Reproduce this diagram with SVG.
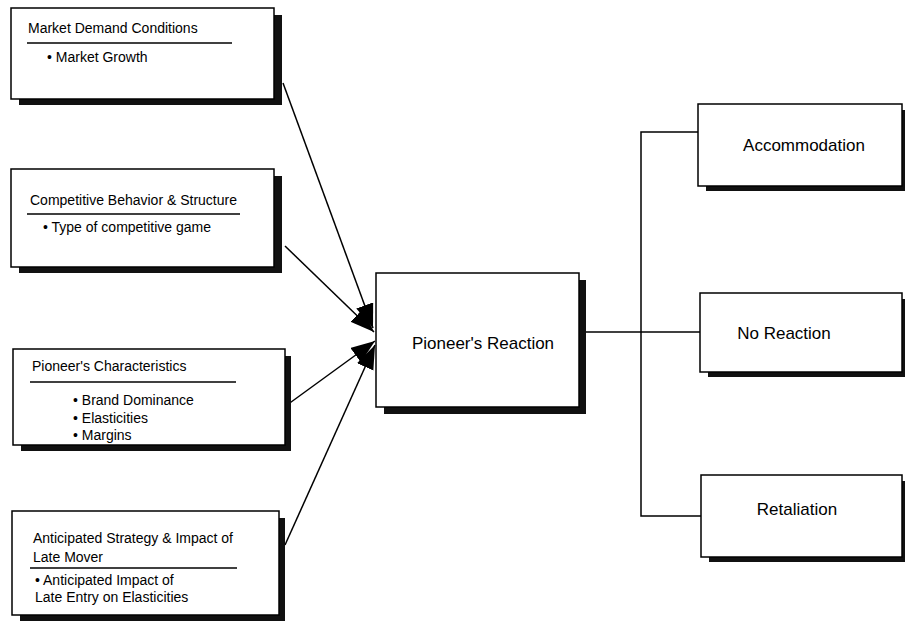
<svg xmlns="http://www.w3.org/2000/svg" width="905" height="623" viewBox="0 0 905 623">
<style>
.box{fill:#fff;stroke:#000;stroke-width:1.5}
.sh{fill:#111}
.t{font-family:"Liberation Sans",Arial,sans-serif;font-size:14px;fill:#000}
.big{font-family:"Liberation Sans",Arial,sans-serif;font-size:17px;fill:#000;text-anchor:middle}
.rule{stroke:#000;stroke-width:1.5}
.c{stroke:#000;stroke-width:1.5;fill:none}
</style>
<defs>
<marker id="ah" markerUnits="userSpaceOnUse" markerWidth="26" markerHeight="20" refX="24" refY="9" orient="auto">
<path d="M0,0 L24,9 L0,18 z" fill="#000"/>
</marker>
</defs>
<rect width="905" height="623" fill="#fff"/>

<g id="connectors">
<line class="c" x1="283" y1="83" x2="373" y2="328" marker-end="url(#ah)"/>
<line class="c" x1="285" y1="246" x2="374" y2="332" marker-end="url(#ah)"/>
<line class="c" x1="287" y1="405" x2="375" y2="341" marker-end="url(#ah)"/>
<line class="c" x1="285" y1="545" x2="375" y2="345" marker-end="url(#ah)"/>
<path class="c" d="M586,332 H700"/>
<path class="c" d="M698,132 H641 V516 H701"/>
</g>

<g id="market-demand">
<rect class="sh" x="19" y="15" width="263" height="90"/>
<rect class="box" x="11" y="8" width="263" height="91"/>
<text class="t" x="28" y="33">Market Demand Conditions</text>
<line class="rule" x1="27" y1="43" x2="232" y2="43"/>
<text class="t" x="47" y="62">• Market Growth</text>
</g>

<g id="competitive">
<rect class="sh" x="19" y="176" width="263" height="97"/>
<rect class="box" x="11" y="169" width="263" height="98"/>
<text class="t" x="30" y="205">Competitive Behavior &amp; Structure</text>
<line class="rule" x1="27" y1="214" x2="240" y2="214"/>
<text class="t" x="43" y="232">• Type of competitive game</text>
</g>

<g id="pioneer-char">
<rect class="sh" x="21" y="356" width="270" height="95"/>
<rect class="box" x="13" y="349" width="272" height="96"/>
<text class="t" x="32" y="371">Pioneer's Characteristics</text>
<line class="rule" x1="30" y1="382" x2="236" y2="382"/>
<text class="t" x="73" y="405">• Brand Dominance</text>
<text class="t" x="73" y="423">• Elasticities</text>
<text class="t" x="73" y="440">• Margins</text>
</g>

<g id="anticipated">
<rect class="sh" x="20" y="518" width="265" height="103"/>
<rect class="box" x="12" y="511" width="267" height="104"/>
<text class="t" x="33" y="543">Anticipated Strategy &amp; Impact of</text>
<text class="t" x="33" y="562">Late Mover</text>
<line class="rule" x1="30" y1="568" x2="237" y2="568"/>
<text class="t" x="35" y="585">• Anticipated Impact of</text>
<text class="t" x="35" y="602">Late Entry on Elasticities</text>
</g>

<g id="pioneer-reaction">
<rect class="sh" x="384" y="280" width="202" height="134"/>
<rect class="box" x="376" y="273" width="203" height="134"/>
<text class="big" x="483" y="349">Pioneer's Reaction</text>
</g>

<g id="accommodation">
<rect class="sh" x="706" y="110" width="202" height="81"/>
<rect class="box" x="698" y="104" width="204" height="82"/>
<text class="big" x="804" y="151">Accommodation</text>
</g>

<g id="no-reaction">
<rect class="sh" x="708" y="299" width="200" height="78"/>
<rect class="box" x="700" y="293" width="202" height="79"/>
<text class="big" x="784" y="339">No Reaction</text>
</g>

<g id="retaliation">
<rect class="sh" x="709" y="481" width="199" height="81"/>
<rect class="box" x="701" y="475" width="201" height="82"/>
<text class="big" x="797" y="515">Retaliation</text>
</g>
</svg>
